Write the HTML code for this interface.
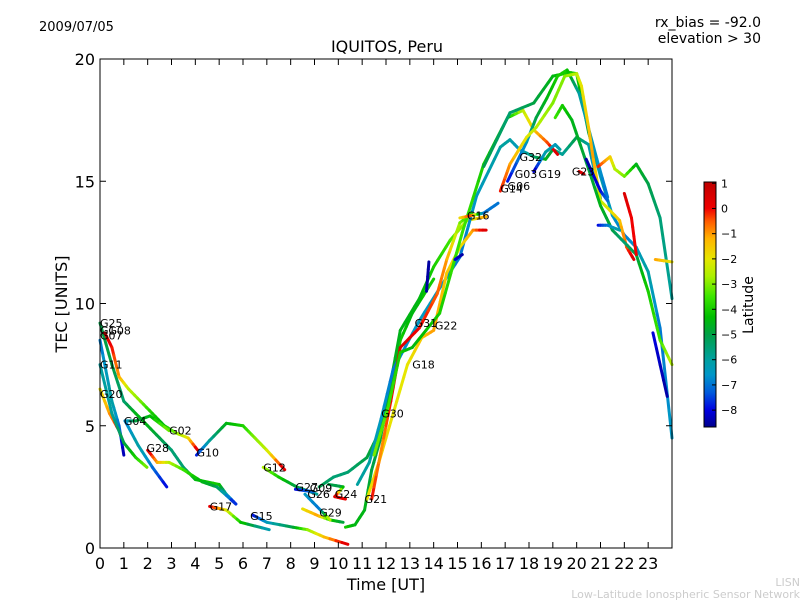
<!DOCTYPE html>
<html><head><meta charset="utf-8"><style>
body{margin:0;background:#fff;}
svg{display:block;font-family:"DejaVu Sans","Liberation Sans",sans-serif;}
</style></head><body>
<svg id="chart" width="800" height="600" viewBox="0 0 800 600">
<defs><linearGradient id="jet" x1="0" y1="1" x2="0" y2="0"></linearGradient></defs>
<text x="39" y="31" font-size="13">2009/07/05</text>
<text x="761" y="27" font-size="14" text-anchor="end">rx_bias = -92.0</text>
<text x="761" y="43" font-size="14" text-anchor="end">elevation &gt; 30</text>
<text x="387" y="52" font-size="16" text-anchor="middle">IQUITOS, Peru</text>
<text x="386" y="590" font-size="16" text-anchor="middle">Time [UT]</text>
<text transform="translate(67,304) rotate(-90)" font-size="16" text-anchor="middle">TEC [UNITS]</text>
<g id="plot"></g>
<rect x="100" y="59" width="572" height="489" fill="none" stroke="#000" stroke-width="1"/>
<g id="axes"></g>
<rect x="704" y="182" width="12" height="245" fill="url(#jet)" stroke="#000" stroke-width="1"/>
<g id="cbticks"></g>
<text transform="translate(753,305) rotate(-90)" font-size="14" text-anchor="middle">Latitude</text>
<text x="800" y="586" font-size="11" fill="#ccc" text-anchor="end">LISN</text>
<text x="800" y="598" font-size="11" fill="#ccc" text-anchor="end">Low-Latitude Ionospheric Sensor Network</text>
</svg>
<script>
const xTicks=[0,1,2,3,4,5,6,7,8,9,10,11,12,13,14,15,16,17,18,19,20,21,22,23];
const yTicks=[0,5,10,15,20];
const cbTicks=[1,0,-1,-2,-3,-4,-5,-6,-7,-8];
// each track: [hour, TEC, latitude] triples
const trackG25=[[0,9.2,-5],[0.5,7.5,-5],[1,6,-5.5],[1.5,5.5,-4.5],[2,5.0,-4.5],[2.5,4.5,-5],[3,4.0,-5.5],[3.5,3.3,-5.5],[4,2.8,-4.5],[5,2.6,-4],[5.3,2.2,-6],[5.7,1.8,-8]];
const trackG08=[[0.2,8.8,0.5],[0.5,8.2,0],[0.8,7,-1],[1.2,6.5,-2.5],[1.7,6.0,-3],[2.2,5.5,-4],[2.7,5.0,-4.5],[3.2,4.7,-3],[3.7,4.5,-2],[4.1,4.0,0.5]];
const trackG20=[[0,6.5,-2],[0.4,5.5,-1],[0.8,4.8,0],[0.97,4.3,0.5]];
const trackG07=[[0,8.5,-7],[0.5,6,-6],[0.8,5,-7],[1.0,3.8,-8.5]];
const trackG11=[[0,7.5,-6],[0.5,5.5,-6],[1,4.3,-5],[1.5,3.7,-4],[1.97,3.3,-3]];
const trackG04=[[1.05,5.2,-7],[1.6,4.2,-6],[2.2,3.3,-7],[2.8,2.5,-8]];
const trackG02=[[1.05,5.2,-7],[1.5,5.2,-5],[2.1,5.4,-4.5],[2.9,4.8,-3]];
const trackG28=[[2,4.0,0.5],[2.4,3.5,-1],[2.9,3.5,-2.5],[3.5,3.2,-3.5],[4.3,2.7,-4.5],[4.9,2.5,-5],[5.7,1.8,-8]];
const trackG10=[[4.05,3.8,-8],[4.6,4.4,-6],[5.3,5.1,-4.5],[6,5.0,-4],[6.5,4.5,-3],[7,4.0,-2.5],[7.75,3.2,0.5]];
const trackG12=[[6.85,3.3,-2.5],[7.5,2.9,-4],[8.25,2.5,-5],[9.1,2.2,-6]];
const trackG09=[[9.2,2.5,-5],[9.8,2.9,-5.5],[10.4,3.1,-5.5],[11.2,3.7,-5],[11.75,4.8,-4.5],[12.3,6.9,-4],[12.6,8.5,-4],[13.1,9.6,-4.5],[14,11,-4]];
const trackG17=[[4.6,1.7,0.5],[5.3,1.55,-2],[5.9,1.05,-4],[7.1,0.75,-6.5]];
const trackG15=[[6.4,1.35,-8],[7,1.05,-6.5],[8.1,0.85,-5],[8.7,0.75,-3],[9.4,0.45,-1.5],[10.4,0.15,0.5]];
const trackG29=[[8.5,1.6,-2],[9.2,1.3,-1],[9.65,1.15,-4],[10.2,1.05,-5]];
const trackG21=[[10.3,0.85,-4],[10.7,0.95,-4.5],[11.1,1.55,-4.5],[11.4,3.2,-5],[11.75,4.4,-5],[12.6,8.9,-4.5],[13.4,10.2,-4.5],[14,11.5,-4],[14.7,12.6,-3.5],[15.4,13.4,-2.5],[16.2,13.55,-1]];
const trackG27=[[8.2,2.4,-8],[8.95,2.3,-7]];
const trackG26=[[8.6,2.2,-6.5],[9.25,1.55,-7],[9.65,1.15,-2]];
const trackG24=[[9.6,2.6,-5],[10.2,2.5,-5],[9.85,2.1,0.5],[10.3,2.0,0]];
const trackG30=[[10.8,2.6,-6],[11.3,3.5,-6],[11.8,5.3,-6.5],[12.3,7.3,-7],[13.4,9.3,-6.5],[14.3,10.7,-6.5],[15.1,11.9,-7],[15.8,14.4,-6.5],[16.8,16.4,-6],[17.2,16.7,-6],[17.6,16.3,-6.5],[18.2,16.0,-5.5],[18.7,15.9,-4.5],[19,16.3,-5],[19.4,16.1,-6],[20,16.8,-5],[20.5,16.5,-6],[21,14.3,-7]];
const trackG18=[[11.2,2.0,-2],[11.7,3.5,-1.5],[12.3,5.5,-2],[12.9,7.5,-2],[13.5,8.6,-1.5],[14,8.9,-1],[14.55,11.25,-1.5],[15.1,12.3,-2],[15.65,13,-1],[16.2,13,0.5]];
const trackG22=[[11.4,2.0,0],[11.8,4.0,-1],[12.2,6.0,0],[12.6,8.2,0.5],[13.4,9.0,0],[14.15,10.4,-0.5],[14.55,11.8,-1],[15.1,13.3,-3],[15.6,13.7,-4]];
const trackG31=[[11.5,3.8,-3],[12.1,5.8,-3.5],[12.6,8.0,-4],[13.1,8.2,-4.5],[14.25,9.6,-4],[15.2,12.9,-3.5],[16.1,15.7,-4],[17.1,17.6,-4.5],[17.75,17.9,-2.5],[18.2,17.1,-1.5],[18.75,16.6,-0.5],[19.2,16.1,0.5]];
const trackG13=[[13.7,10.5,-8.5],[13.8,11.7,-8.5]];
const trackG05=[[14.9,11.8,-8],[15.2,12,-8.5]];
const trackG16=[[15.1,13.5,-2],[15.6,13.6,0],[16.1,13.7,-7],[16.7,14.1,-7]];
const trackG01=[[16.1,15.6,-5],[17.2,17.8,-5.5],[18.2,18.2,-5],[19,19.3,-4.5],[19.7,19.45,-4],[20,19.4,-4],[20.5,17,-5],[21,15.2,-6],[21.5,13.6,-6.5],[22,12.8,-7],[22.5,12.3,-6.5],[23,11.3,-6],[23.5,9,-7],[24,4.5,-6.5]];
const trackG03=[[17.1,15,-8],[17.9,16.6,-6.5],[18.3,17.6,-5],[18.75,18.4,-4.5],[19.2,19.3,-4],[19.6,19.55,-4],[20.1,18.6,-6],[20.85,15.9,-6.5],[21.3,14.35,-7]];
const trackG14=[[16.8,14.6,0],[17.2,15.7,-1],[17.9,16.8,-2],[18.3,17.2,-2.5],[19,18.2,-3],[19.5,19.3,-3],[20,19.4,-2.5],[20.2,18.9,-2],[20.5,17.2,-1.5],[20.7,15.9,-1],[21,14.2,-2.5],[21.8,13.4,-1.5],[22.1,12.3,-0.5],[22.4,11.8,0.5]];
const trackG19=[[18.2,15.4,-8.5],[18.7,16.2,-6],[19.1,16.5,-6.5],[19.3,16.3,-6]];
const trackG32=[[19.1,17.6,-3.5],[19.4,18.1,-4],[19.8,17.5,-4.5],[20.5,15.5,-5],[21,14,-4.5],[21.5,13,-5],[22,12.5,-5.5],[22.5,12,-5],[23,10.5,-4],[23.5,8.5,-3.5],[24,7.5,-2.5]];
const trackG06=[[20.9,13.2,-8],[21.3,13.2,-7],[21.8,13.0,-6]];
const trackG34=[[22.0,14.5,0.5],[22.3,13.5,0],[22.5,12,0]];
const trackG35=[[20.4,15.9,-8.5],[21.0,14.6,-8],[21.3,14.2,-7]];
const trackG23=[[20.9,15.6,0],[21.4,16.0,-1.5],[21.6,15.5,-2.5],[22,15.2,-3],[22.5,15.7,-4.5],[23,14.9,-5],[23.5,13.5,-5.5],[24,10.2,-6]];
const trackG36=[[23.3,11.8,-1],[24,11.7,-2]];
const trackG37=[[23.2,8.8,-8],[23.8,6.2,-8.5]];
const trackG38=[[20.1,15.4,0.5],[20.3,15.3,0.5]];
const tracks=[trackG25,trackG08,trackG20,trackG07,trackG11,trackG04,trackG02,trackG28,trackG10,trackG12,trackG09,trackG17,trackG15,trackG29,trackG21,trackG27,trackG26,trackG24,trackG30,trackG18,trackG22,trackG31,trackG13,trackG05,trackG16,trackG01,trackG03,trackG14,trackG19,trackG32,trackG06,trackG34,trackG35,trackG23,trackG36,trackG37,trackG38];
const satLabels=["G25","G1","G08","G07","G11","G20","G04","G02","G28","G10","G12","G17","G15","G27","G09","G26","G24","G29","G21","G30","G18","G31","G22","G16","G32","G03","G19","G23","G14","G06"];
const labelHours=[0,0,0.35,0,0,0,1.0,2.9,1.95,4.05,6.85,4.6,6.3,8.2,8.8,8.7,9.85,9.2,11.1,11.8,13.1,13.2,14.05,15.4,17.6,17.4,18.4,19.8,16.8,17.1];
const labelTec=[9.2,8.9,8.9,8.7,7.5,6.3,5.2,4.8,4.1,3.9,3.3,1.7,1.3,2.5,2.45,2.2,2.2,1.45,2.0,5.5,7.5,9.2,9.1,13.6,16.0,15.3,15.3,15.4,14.7,14.8];

const X=h=>100+h*572/24, Y=v=>548-v*489/20;
const LMIN=-8.67,LMAX=1.05;
// colormap stops: [latitude, r,g,b]
const CMAP=[[-8.67,0,0,140],[-8,0,0,225],[-7.3,0,90,220],[-6.6,0,150,200],[-6,0,160,160],[-5,0,160,70],[-4.3,0,190,0],[-3.5,60,230,0],[-2.7,170,240,0],[-2,230,230,0],[-1.2,255,180,0],[-0.5,255,90,0],[0,240,0,0],[1.05,190,0,0]];
function col(l){
 if(l<=CMAP[0][0])return `rgb(${CMAP[0].slice(1)})`;
 for(let i=0;i<CMAP.length-1;i++){const a=CMAP[i],b=CMAP[i+1];
  if(l<=b[0]){const t=(l-a[0])/(b[0]-a[0]);return `rgb(${[1,2,3].map(k=>Math.round(a[k]+(b[k]-a[k])*t)).join(',')})`;}}
 return `rgb(${CMAP[CMAP.length-1].slice(1)})`;
}
const NS="http://www.w3.org/2000/svg";
const grad=document.getElementById('jet');
CMAP.forEach(s=>{const st=document.createElementNS(NS,'stop');st.setAttribute('offset',(s[0]-LMIN)/(LMAX-LMIN));st.setAttribute('stop-color',`rgb(${s.slice(1)})`);grad.appendChild(st);});
const plot=document.getElementById('plot');
tracks.forEach((tr,ti)=>{
 const g=document.createElementNS(NS,'g');
 
 
 for(let i=0;i<tr.length-1;i++){
  const a=tr[i],b=tr[i+1];
  for(let k=0;k<4;k++){
   const t0=k/4,t1=(k+1)/4,tm=(t0+t1)/2;
   const ln=document.createElementNS(NS,'line');
   ln.setAttribute('x1',X(a[0]+(b[0]-a[0])*t0));ln.setAttribute('y1',Y(a[1]+(b[1]-a[1])*t0));
   ln.setAttribute('x2',X(a[0]+(b[0]-a[0])*t1));ln.setAttribute('y2',Y(a[1]+(b[1]-a[1])*t1));
   ln.setAttribute('stroke',col(a[2]+(b[2]-a[2])*tm));
   ln.setAttribute('stroke-width','3');ln.setAttribute('stroke-linecap','round');
   
   
   g.appendChild(ln);
  }
 }
 plot.appendChild(g);
});
satLabels.forEach((s,i)=>{
 const t=document.createElementNS(NS,'text');
 t.setAttribute('x',X(labelHours[i]));t.setAttribute('y',Y(labelTec[i])+4);
 t.setAttribute('font-size','11');t.textContent=s;
 
 
 plot.appendChild(t);
});
const axes=document.getElementById('axes');
function add(tag,attrs,txt){const e=document.createElementNS(NS,tag);for(const k in attrs)e.setAttribute(k,attrs[k]);if(txt!==undefined)e.textContent=txt;axes.appendChild(e);return e;}
xTicks.forEach(h=>{
 const x=X(h);
 const a=add('line',{x1:x,y1:548,x2:x,y2:542,stroke:'#000'});
 
 
 const b=add('line',{x1:x,y1:59,x2:x,y2:65,stroke:'#000'});
 
 
 const t=add('text',{x:x,y:569,'font-size':'16','text-anchor':'middle'},String(h));
 
 
});
yTicks.forEach(v=>{
 const y=Y(v);
 const a=add('line',{x1:100,y1:y,x2:106,y2:y,stroke:'#000'});
 
 
 const b=add('line',{x1:672,y1:y,x2:666,y2:y,stroke:'#000'});
 
 
 const t=add('text',{x:95,y:y+6,'font-size':'16','text-anchor':'end'},String(v));
 
 
});
const cb=document.getElementById('cbticks');
cbTicks.forEach(v=>{
 const y=427-(v-LMIN)/(LMAX-LMIN)*245;
 const l=document.createElementNS(NS,'line');
 l.setAttribute('x1',712);l.setAttribute('x2',716);l.setAttribute('y1',y);l.setAttribute('y2',y);l.setAttribute('stroke','#000');
 
 
 cb.appendChild(l);
 const t=document.createElementNS(NS,'text');
 t.setAttribute('x',721);t.setAttribute('y',y+4);t.setAttribute('font-size','11');
 t.textContent=(v<0?'\u2212':'')+Math.abs(v);
 
 
 cb.appendChild(t);
});
</script>
</body></html>
